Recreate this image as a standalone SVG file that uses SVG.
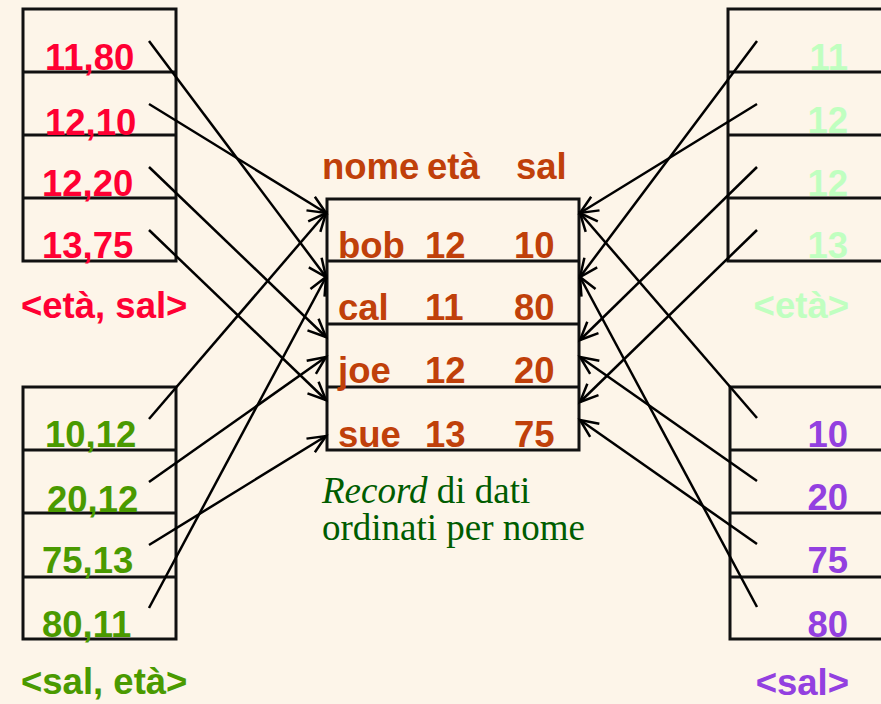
<svg xmlns="http://www.w3.org/2000/svg" width="881" height="704" viewBox="0 0 881 704">
  <style>
    .box { fill: none; stroke: #111; stroke-width: 3; }
    .sep { stroke: #111; stroke-width: 3; }
    .b { font-family: "Liberation Sans", Arial, sans-serif; font-weight: bold; font-size: 36.5px; }
    .red { fill: #ff0033; }
    .grn { fill: #4a9a00; }
    .lgr { fill: #c0ffc0; }
    .pur { fill: #9340e0; }
    .rec { fill: #c0400a; }
    .cap { font-family: "Liberation Serif", "Times New Roman", serif; font-size: 37px; fill: #005c00; }
    .link { stroke: #000; stroke-width: 2.5; fill: none; marker-end: url(#arrow); }
  </style>
  <defs>
    <marker id="arrow" markerUnits="userSpaceOnUse" markerWidth="26" markerHeight="26" viewBox="-22 -13 26 26" refX="0" refY="0" orient="auto">
      <path d="M -18 -8 L 0 0 L -18 8" fill="none" stroke="#000" stroke-width="2.5"/>
    </marker>
  </defs>

  <rect width="881" height="704" fill="#fdf5e9"/>

  <!-- index on (età, sal) -->
  <g id="idx-eta-sal">
    <rect class="box" x="23" y="9" width="153" height="252"/>
    <line class="sep" x1="23" y1="72" x2="176" y2="72"/>
    <line class="sep" x1="23" y1="135" x2="176" y2="135"/>
    <line class="sep" x1="23" y1="198" x2="176" y2="198"/>
    <text class="b red" x="45" y="70">11,80</text>
    <text class="b red" x="45" y="135">12,10</text>
    <text class="b red" x="42" y="196">12,20</text>
    <text class="b red" x="42" y="258">13,75</text>
    <text class="b red" x="21" y="318">&lt;età, sal&gt;</text>
  </g>

  <!-- index on (sal, età) -->
  <g id="idx-sal-eta">
    <rect class="box" x="23" y="387" width="153" height="252"/>
    <line class="sep" x1="23" y1="450" x2="176" y2="450"/>
    <line class="sep" x1="23" y1="513" x2="176" y2="513"/>
    <line class="sep" x1="23" y1="577" x2="176" y2="577"/>
    <text class="b grn" x="45" y="447">10,12</text>
    <text class="b grn" x="47" y="512">20,12</text>
    <text class="b grn" x="42" y="573">75,13</text>
    <text class="b grn" x="42" y="637">80,11</text>
    <text class="b grn" x="21" y="694">&lt;sal, età&gt;</text>
  </g>

  <!-- data records sorted by name -->
  <g id="records">
    <text class="b rec" x="322" y="179">nome</text>
    <text class="b rec" x="427" y="179">età</text>
    <text class="b rec" x="516" y="179">sal</text>
    <rect class="box" x="327" y="199" width="252" height="251"/>
    <line class="sep" x1="327" y1="261" x2="579" y2="261"/>
    <line class="sep" x1="327" y1="324" x2="579" y2="324"/>
    <line class="sep" x1="327" y1="387" x2="579" y2="387"/>
    <text class="b rec" x="338" y="258">bob</text>
    <text class="b rec" x="425" y="258">12</text>
    <text class="b rec" x="514" y="258">10</text>
    <text class="b rec" x="338" y="320">cal</text>
    <text class="b rec" x="425" y="320">11</text>
    <text class="b rec" x="514" y="320">80</text>
    <text class="b rec" x="338" y="383">joe</text>
    <text class="b rec" x="425" y="383">12</text>
    <text class="b rec" x="514" y="383">20</text>
    <text class="b rec" x="338" y="447">sue</text>
    <text class="b rec" x="425" y="447">13</text>
    <text class="b rec" x="514" y="447">75</text>
    <text class="cap" x="322" y="503"><tspan font-style="italic">Record</tspan> di dati</text>
    <text class="cap" x="322" y="540">ordinati per nome</text>
  </g>

  <!-- index on età -->
  <g id="idx-eta">
    <rect class="box" x="728" y="9" width="200" height="252"/>
    <line class="sep" x1="728" y1="72" x2="881" y2="72"/>
    <line class="sep" x1="728" y1="135" x2="881" y2="135"/>
    <line class="sep" x1="728" y1="198" x2="881" y2="198"/>
    <text class="b lgr" x="848" y="70" text-anchor="end">11</text>
    <text class="b lgr" x="848" y="133" text-anchor="end">12</text>
    <text class="b lgr" x="848" y="196" text-anchor="end">12</text>
    <text class="b lgr" x="848" y="258" text-anchor="end">13</text>
    <text class="b lgr" x="849" y="318" text-anchor="end">&lt;età&gt;</text>
  </g>

  <!-- index on sal -->
  <g id="idx-sal">
    <rect class="box" x="730" y="387" width="200" height="252"/>
    <line class="sep" x1="730" y1="450" x2="881" y2="450"/>
    <line class="sep" x1="730" y1="513" x2="881" y2="513"/>
    <line class="sep" x1="730" y1="577" x2="881" y2="577"/>
    <text class="b pur" x="848" y="447" text-anchor="end">10</text>
    <text class="b pur" x="848" y="510" text-anchor="end">20</text>
    <text class="b pur" x="848" y="573" text-anchor="end">75</text>
    <text class="b pur" x="848" y="637" text-anchor="end">80</text>
    <text class="b pur" x="849" y="695" text-anchor="end">&lt;sal&gt;</text>
  </g>

  <!-- pointers from index entries to records -->
  <g id="connectors">
    <line class="link" x1="149" y1="41" x2="326" y2="277"/>
    <line class="link" x1="149" y1="104" x2="326" y2="213"/>
    <line class="link" x1="149" y1="167" x2="326" y2="337"/>
    <line class="link" x1="149" y1="230" x2="326" y2="400"/>
    <line class="link" x1="149" y1="419" x2="326" y2="213"/>
    <line class="link" x1="149" y1="482" x2="326" y2="357"/>
    <line class="link" x1="149" y1="545" x2="326" y2="436"/>
    <line class="link" x1="149" y1="608" x2="326" y2="277"/>
    <line class="link" x1="757" y1="41" x2="580" y2="277"/>
    <line class="link" x1="757" y1="104" x2="580" y2="213"/>
    <line class="link" x1="757" y1="167" x2="580" y2="340"/>
    <line class="link" x1="757" y1="230" x2="580" y2="402"/>
    <line class="link" x1="757" y1="418" x2="580" y2="213"/>
    <line class="link" x1="757" y1="481" x2="580" y2="357"/>
    <line class="link" x1="757" y1="544" x2="580" y2="420"/>
    <line class="link" x1="757" y1="607" x2="580" y2="277"/>
  </g>
</svg>
